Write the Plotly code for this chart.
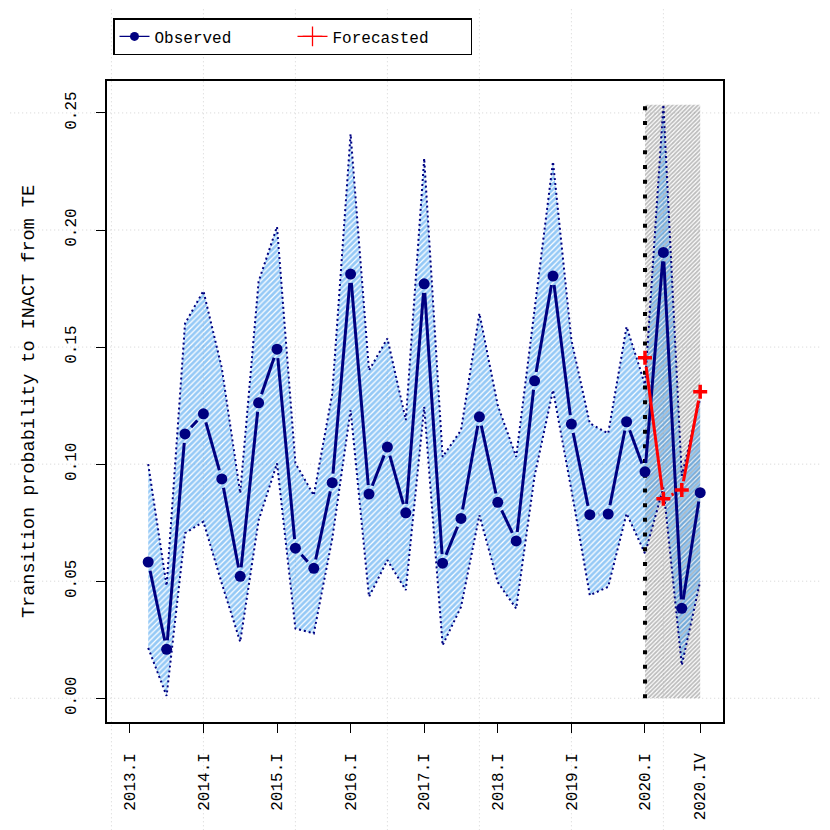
import math
import plotly.graph_objects as go

# ---------------- data ----------------
quarters = [f"{y}.{q}" for y in range(2013, 2021) for q in ["I", "II", "III", "IV"]]

observed = [None, 0.0582, 0.0209, 0.1129, 0.1215, 0.0937, 0.0521, 0.1262,
            0.1491, 0.0641, 0.0555, 0.0921, 0.1812, 0.0872, 0.1073, 0.0792,
            0.1770, 0.0577, 0.0768, 0.1202, 0.0837, 0.0672, 0.1356, 0.1803,
            0.1171, 0.0784, 0.0787, 0.1181, 0.0967, 0.1904, 0.0384, 0.0878]

upper = [None, 0.100, 0.048, 0.160, 0.174, 0.141, 0.0876, 0.178,
         0.2014, 0.1004, 0.0867, 0.130, 0.2410, 0.140, 0.1537, 0.1188,
         0.2306, 0.1031, 0.1145, 0.1644, 0.125, 0.1031, 0.165, 0.2292,
         0.153, 0.1174, 0.1131, 0.1587, 0.134, 0.2535, 0.095, 0.128]

lower = [None, 0.0215, 0.001, 0.0705, 0.0754, 0.049, 0.0241, 0.076,
         0.1003, 0.0298, 0.0277, 0.068, 0.1231, 0.0433, 0.059, 0.0462,
         0.1245, 0.0226, 0.039, 0.0782, 0.0495, 0.0383, 0.095, 0.1316,
         0.089, 0.044, 0.0476, 0.0789, 0.0618, 0.090, 0.0141, 0.050]

forecast_q = ["2020.I", "2020.II", "2020.III", "2020.IV"]
forecast = [0.1454, 0.0852, 0.0889, 0.1309]

tick_labels = ["2013.I", "2014.I", "2015.I", "2016.I", "2017.I",
               "2018.I", "2019.I", "2020.I", "2020.IV"]

y_ticks = [0.00, 0.05, 0.10, 0.15, 0.20, 0.25]

# ---------------- derived positions ----------------
qidx = {q: i + 1 for i, q in enumerate(quarters)}
obs_x = [qidx[q] for q, v in zip(quarters, observed) if v is not None]
obs_y = [v for v in observed if v is not None]
up_y = [v for v in upper if v is not None]
lo_y = [v for v in lower if v is not None]
fc_x = [qidx[q] for q in forecast_q]
tick_x = [qidx[t] for t in tick_labels]

xmin_d, xmax_d = 1, len(quarters)
pad_x = 0.04 * (xmax_d - xmin_d)
xr = [xmin_d - pad_x, xmax_d + pad_x]
ymax_d = max(up_y)
pad_y = 0.04 * ymax_d
yr = [0 - pad_y, ymax_d + pad_y]

PLOT_W, PLOT_H = 616, 641
sx = PLOT_W / (xr[1] - xr[0])
sy = PLOT_H / (yr[1] - yr[0])


def gapped(xs, ys, gap=9.0):
    """Line segments between points, leaving a gap round each point (type='b')."""
    gx, gy = [], []
    for (x0, y0), (x1, y1) in zip(zip(xs, ys), zip(xs[1:], ys[1:])):
        L = math.hypot((x1 - x0) * sx, (y1 - y0) * sy)
        if L <= 2 * gap:
            continue
        t = gap / L
        gx += [x0 + t * (x1 - x0), x1 - t * (x1 - x0), None]
        gy += [y0 + t * (y1 - y0), y1 - t * (y1 - y0), None]
    return gx, gy


NAVY = "#000080"
FONT = "Courier New, Liberation Mono, monospace"

fig = go.Figure()

# grey forecast area
fig.add_trace(go.Scatter(
    x=[fc_x[0], fc_x[-1], fc_x[-1], fc_x[0], fc_x[0]],
    y=[0, 0, ymax_d, ymax_d, 0],
    mode="lines", line=dict(width=0, color="rgba(0,0,0,0)"),
    fill="toself", fillcolor="rgba(0,0,0,0)",
    fillpattern=dict(shape="/", fgcolor="#7a7a7a", bgcolor="rgba(255,255,255,0)",
                     size=3, solidity=0.6),
    showlegend=False, hoverinfo="skip"))

# confidence band
fig.add_trace(go.Scatter(
    x=obs_x + obs_x[::-1], y=up_y + lo_y[::-1],
    mode="lines", line=dict(width=0, color="rgba(0,0,0,0)"),
    fill="toself", fillcolor="rgba(0,0,0,0)",
    fillpattern=dict(shape="/", fgcolor="#2c93ee", bgcolor="rgba(255,255,255,0)",
                     size=4, solidity=0.7),
    showlegend=False, hoverinfo="skip"))

for band in (up_y, lo_y):
    fig.add_trace(go.Scatter(
        x=obs_x, y=band, mode="lines",
        line=dict(color=NAVY, width=2, dash="2px,3px"),
        showlegend=False, hoverinfo="skip"))

# vertical dotted line at forecast start
fig.add_trace(go.Scatter(
    x=[fc_x[0], fc_x[0]], y=[0, ymax_d], mode="lines",
    line=dict(color="black", width=4, dash="4px,10.7px"),
    showlegend=False, hoverinfo="skip"))

# observed
ox, oy = gapped(obs_x, obs_y)
fig.add_trace(go.Scatter(x=ox, y=oy, mode="lines", line=dict(color=NAVY, width=3),
                         showlegend=False, hoverinfo="skip"))
fig.add_trace(go.Scatter(
    x=obs_x, y=obs_y, mode="markers", name="Observed",
    marker=dict(color=NAVY, size=11, symbol="circle"),
    showlegend=False))

# forecast
fx, fy = gapped(fc_x, forecast)
fig.add_trace(go.Scatter(x=fx, y=fy, mode="lines", line=dict(color="red", width=3),
                         showlegend=False, hoverinfo="skip"))
fig.add_trace(go.Scatter(
    x=fc_x, y=forecast, mode="markers", name="Forecasted",
    marker=dict(color="red", size=10, symbol="cross-thin",
                line=dict(color="red", width=3.5)),
    showlegend=False))

# legend entries (thin lines as in the key)
fig.add_trace(go.Scatter(
    x=[None], y=[None], mode="lines+markers", name="Observed",
    line=dict(color=NAVY, width=1.3),
    marker=dict(color=NAVY, size=9, symbol="circle")))
fig.add_trace(go.Scatter(
    x=[None], y=[None], mode="lines+markers", name="Forecasted",
    line=dict(color="red", width=1.3),
    marker=dict(color="red", size=14, symbol="cross-thin",
                line=dict(color="red", width=1.3))))

# grid lines across whole figure
span = xr[1] - xr[0]
shapes = []
for gx in range(0, 31, 5):
    px = (gx - xr[0]) / span
    shapes.append(dict(type="line", xref="paper", yref="paper",
                       x0=px, x1=px, y0=-0.3, y1=1.3, layer="below",
                       line=dict(color="#d3d3d3", width=1, dash="1px,3px")))
yspan = yr[1] - yr[0]
for gy in y_ticks:
    py = (gy - yr[0]) / yspan
    shapes.append(dict(type="line", xref="paper", yref="paper",
                       x0=-0.3, x1=1.3, y0=py, y1=py, layer="below",
                       line=dict(color="#d3d3d3", width=1, dash="1px,3px")))

# page body has an 8px margin; size the figure to fill the rest of the window
W = H = 822
fig.update_layout(
    width=W, height=H,
    margin=dict(l=99, r=107, t=73, b=108, autoexpand=False),
    paper_bgcolor="white", plot_bgcolor="rgba(0,0,0,0)",
    font=dict(family=FONT, size=16, color="black"),
    shapes=shapes,
    showlegend=True,
    legend=dict(orientation="h", x=6 / 616, xanchor="left",
                y=1 + (73 - 10) / 641, yanchor="top",
                bordercolor="black", borderwidth=1.5, bgcolor="white",
                font=dict(family=FONT, size=16),
                entrywidth=133, entrywidthmode="pixels",
                itemwidth=30, tracegroupgap=0),
    xaxis=dict(range=xr, tickmode="array", tickvals=tick_x, ticktext=tick_labels,
               tickangle=-90, ticks="outside", ticklen=9, tickwidth=1.3,
               tickcolor="black", showline=True, mirror=True, linecolor="black",
               linewidth=1.5, showgrid=False, zeroline=False,
               ticklabelstandoff=14,
               tickfont=dict(family=FONT, size=16)),
    yaxis=dict(range=yr, tickmode="array", tickvals=y_ticks,
               ticktext=[f"{v:.2f}" for v in y_ticks],
               tickangle=-90, ticks="outside", ticklen=9, tickwidth=1.3,
               tickcolor="black", showline=True, mirror=True, linecolor="black",
               linewidth=1.5, showgrid=False, zeroline=False,
               ticklabelstandoff=14,
               tickfont=dict(family=FONT, size=16),
               title=dict(text="Transition probability to INACT from TE",
                          font=dict(family=FONT, size=18.5), standoff=23)),
)

fig.write_html("out.html")
